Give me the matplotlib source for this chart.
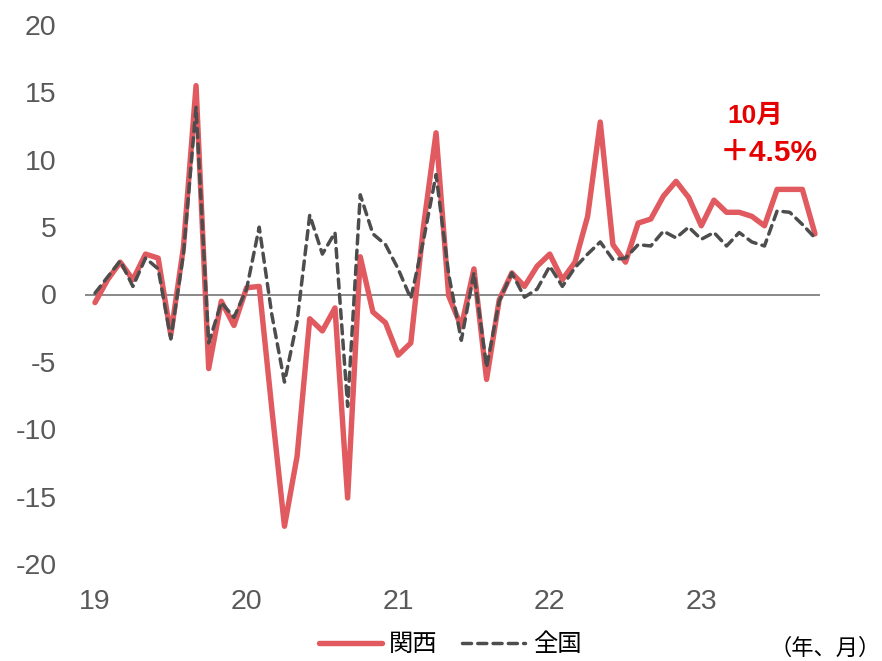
import numpy as np
import matplotlib
matplotlib.use("Agg")
import matplotlib.pyplot as plt

plt.rcParams['font.family'] = ['Liberation Sans', 'Noto Sans CJK JP', 'DejaVu Sans']
plt.rcParams['axes.unicode_minus'] = False

# monthly data, Jan 2019 - Oct 2023
kansai = [-0.6, 1.1, 2.4, 1.1, 3.0, 2.7, -3.0, 3.5, 15.5, -5.5,
          -0.5, -2.3, 0.5, 0.6, -8.5, -17.2, -12.0, -1.8, -2.7, -1.0,
          -15.1, 2.8, -1.3, -2.1, -4.5, -3.6, 5.0, 12.0, -0.1, -2.4,
          1.9, -6.3, -0.4, 1.6, 0.6, 2.1, 3.0, 1.1, 2.4, 5.8,
          12.8, 3.7, 2.4, 5.3, 5.6, 7.3, 8.4, 7.2, 5.1, 7.0,
          6.1, 6.1, 5.8, 5.1, 7.8, 7.8, 7.8, 4.5]
zenkoku = [0.1, 1.3, 2.5, 0.6, 2.7, 1.9, -3.3, 3.0, 13.9, -3.6,
           -0.6, -1.7, 0.4, 5.0, -1.5, -6.5, -2.0, 5.9, 3.0, 4.6,
           -8.3, 7.4, 4.5, 3.7, 1.9, -0.3, 4.0, 8.9, 1.5, -3.4,
           1.6, -5.4, -0.5, 1.6, -0.2, 0.4, 2.1, 0.6, 2.0, 3.0,
           3.9, 2.6, 2.7, 3.7, 3.6, 4.7, 4.2, 5.0, 4.1, 4.6,
           3.6, 4.6, 3.9, 3.6, 6.2, 6.1, 5.2, 4.2]
year_labels = ['19', '20', '21', '22', '23']
y_ticks = [-20, -15, -10, -5, 0, 5, 10, 15, 20]
series_names = ['関西', '全国']
note_month = '10月'
note_value = '＋4.5%'

RED = '#E05A5F'
DARK = '#4D4D4D'
TXT = '#595959'

x = np.arange(len(kansai))

fig = plt.figure(figsize=(8.82, 6.61), dpi=100)
ax = fig.add_axes([80 / 882, 1 - 564 / 661, 745 / 882, 539 / 661])

ax.hlines(0, -0.8, len(kansai) - 0.6, color='#808080', lw=1.3, zorder=1)
ax.plot(x, kansai, color=RED, lw=3.9, solid_joinstyle='round',
        solid_capstyle='round', label=series_names[0], zorder=2, clip_on=False)
ax.plot(x, zenkoku, color=DARK, lw=2.5, linestyle=(0, (2.6, 1.8)),
        dash_capstyle='round', label=series_names[1], zorder=3, clip_on=False)

ax.set_xlim(-15 / 12.63, len(kansai) - 1 + 10 / 12.63)
ax.set_ylim(-20, 20)
ax.set_yticks(y_ticks)
ax.set_yticklabels([str(v) for v in y_ticks])
ax.set_xticks(np.arange(len(year_labels)) * 12)
ax.set_xticklabels(year_labels)
ax.tick_params(axis='both', length=0, labelsize=20.5, labelcolor=TXT)
ax.tick_params(axis='y', pad=17)
ax.tick_params(axis='x', pad=18)
for s in ax.spines.values():
    s.set_visible(False)

# annotation for the latest month
fig.text(727 / 882, 1 - 116 / 661, note_month, color='#E60000', fontsize=19,
         fontweight='bold', ha='left', va='center')
fig.text(720 / 882, 1 - 153 / 661, note_value, color='#E60000', fontsize=21.5,
         fontweight='bold', ha='left', va='center')

fig.legend(loc='center', bbox_to_anchor=(450 / 882, 1 - 645 / 661), ncol=2,
           frameon=False, fontsize=17.5, handlelength=2.6, columnspacing=1.0,
           handletextpad=0.3)
fig.text(881 / 882, 1 - 649 / 661, '（年、月）', fontsize=16, ha='right',
         va='center', color='black')

fig.savefig('out.png', dpi=100)
